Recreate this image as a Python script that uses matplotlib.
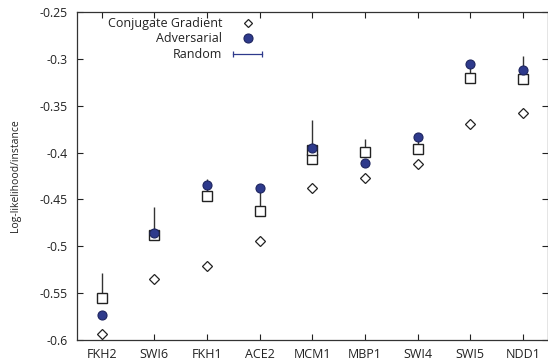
import numpy as np
import matplotlib
matplotlib.use("Agg")
import matplotlib.pyplot as plt
from matplotlib.lines import Line2D
from matplotlib.legend_handler import HandlerLine2D
from matplotlib.ticker import FuncFormatter

plt.rcParams['font.family'] = ['Open Sans', 'DejaVu Sans']
plt.rcParams['axes.unicode_minus'] = False

# data
genes = ['FKH2', 'SWI6', 'FKH1', 'ACE2', 'MCM1', 'MBP1', 'SWI4', 'SWI5', 'NDD1']
conj_grad = [-0.594, -0.535, -0.521, -0.494, -0.438, -0.427, -0.412, -0.370, -0.358]
adversarial = [-0.573, -0.486, -0.435, -0.438, -0.395, -0.411, -0.383, -0.306, -0.312]
random_mean = [-0.555, -0.488, -0.446, -0.462, -0.397, -0.399, -0.396, -0.320, -0.321]
random_top = [-0.529, -0.458, -0.428, -0.438, -0.365, -0.386, -0.385, -0.308, -0.297]
# second random run that shows up as a taller box for MCM1
random_extra = [np.nan, np.nan, np.nan, np.nan, -0.407, np.nan, np.nan, np.nan, np.nan]

fig = plt.figure(figsize=(5.48, 3.64), dpi=100)
ax = fig.add_axes([0.1405, 0.066, 0.859, 0.901])

x = np.arange(len(genes))
rm = np.array(random_mean)
up = np.array(random_top) - rm
ax.errorbar(x, rm, yerr=[np.zeros_like(up), up], fmt='none', ecolor='#333333',
            elinewidth=1.0, capsize=0, zorder=2)
ax.plot(x, random_extra, 's', ms=7, mfc='white', mec='#222222', mew=1.0, zorder=3)
ax.plot(x, rm, 's', ms=7, mfc='white', mec='#222222', mew=1.0, zorder=3)
ax.plot(x, adversarial, 'o', ms=6.5, mfc='#2e3a8c', mec='#1e2560', mew=0.8, zorder=4)
ax.plot(x, conj_grad, 'D', ms=4.8, mfc='white', mec='#222222', mew=0.9, zorder=4)

ax.set_xlim(-0.47, 8.47)
ax.set_ylim(-0.6, -0.25)
ax.set_xticks(x)
ax.set_xticklabels(genes)
ax.set_yticks(np.arange(-0.6, -0.249, 0.05))
ax.yaxis.set_major_formatter(FuncFormatter(lambda v, p: '%g' % round(v, 2)))
ax.tick_params(direction='in', length=4, width=0.8, top=True, right=True,
               labelsize=8.8, colors='#222222')
ax.tick_params(axis='y', pad=7)
ax.tick_params(axis='x', pad=6)
for lab in ax.get_xticklabels():
    lab.set_fontsize(9)
for s in ax.spines.values():
    s.set_color('#333333')
    s.set_linewidth(0.9)
ax.set_ylabel('Log-likelihood/instance', fontsize=7.5, color='#222222', labelpad=13)

h_cg = Line2D([], [], ls='none', marker='D', ms=4.5, mfc='white', mec='#222222', mew=0.9)
h_adv = Line2D([], [], ls='none', marker='o', ms=6.5, mfc='#2e3a8c', mec='#1e2560', mew=0.8)
h_rand = Line2D([], [], color='#2e3a8c', lw=0.9, marker='|', ms=4, mew=0.9)
leg = ax.legend([h_cg, h_adv, h_rand], ['Conjugate Gradient', 'Adversarial', 'Random'],
                loc='upper right', bbox_to_anchor=(0.401, 0.985), frameon=False,
                markerfirst=False, fontsize=9, handlelength=2.9, handletextpad=0.6,
                labelspacing=0.2, borderpad=0, borderaxespad=0,
                handler_map={h_rand: HandlerLine2D(numpoints=2)})
for t in leg.get_texts():
    t.set_color('#222222')

fig.savefig('out.png', dpi=100)
